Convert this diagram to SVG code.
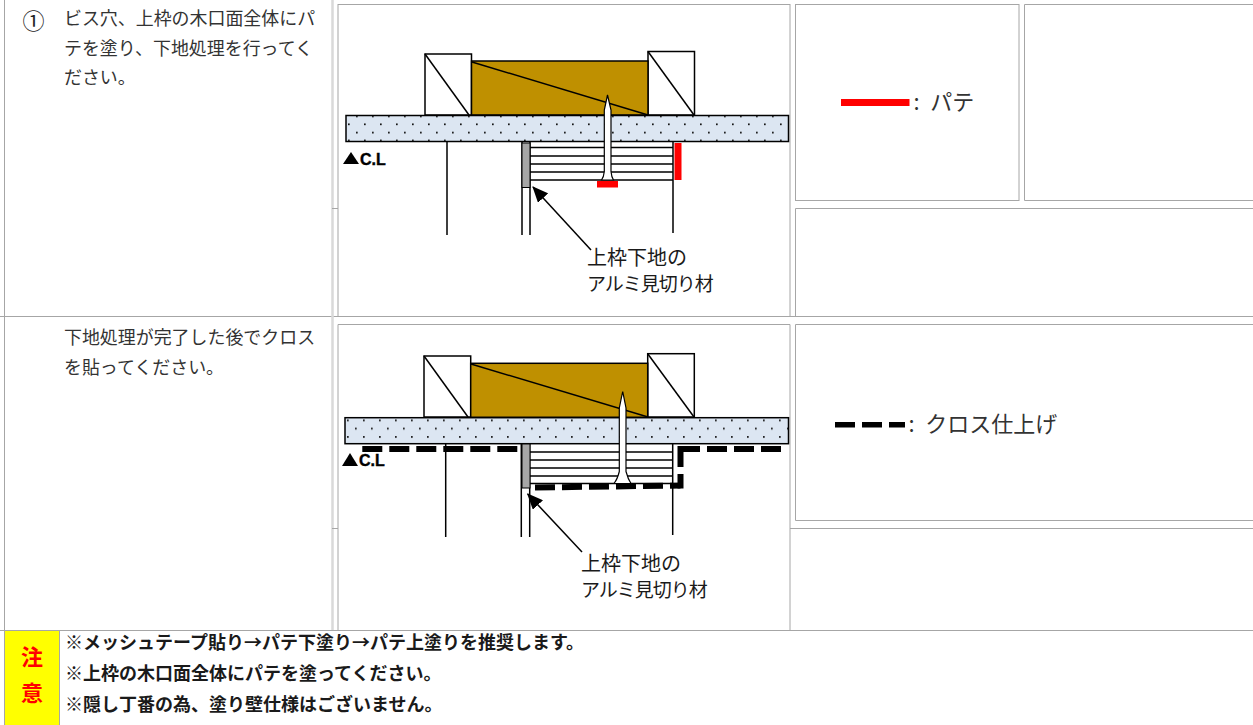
<svg xmlns="http://www.w3.org/2000/svg" width="1253" height="725" viewBox="0 0 1253 725">
<style>
text{font-family:"Noto Sans CJK JP","Liberation Sans",sans-serif}
.g{fill:none;stroke:#a6a6a6;stroke-width:1}
.gl{fill:none;stroke:#d9d9d9;stroke-width:2.5}
.body{font-size:17.95px;fill:#333}
.lab{font-size:20px;fill:#1a1a1a}
.lab2{font-size:19px;letter-spacing:-1px;fill:#1a1a1a}
.leg{font-size:22px;fill:#333}
.note{font-size:18px;font-weight:700;fill:#1a1a1a}
.warn{font-size:22px;font-weight:700;fill:#f00;text-anchor:middle}
.cl{font-family:"Liberation Sans",sans-serif;font-size:16px;font-weight:700;fill:#000;stroke:#000;stroke-width:.4}
.k{fill:none;stroke:#000;stroke-width:1.5}
.w{fill:#fff;stroke:#000;stroke-width:1.5}
.b{fill:#bf9000;stroke:#000;stroke-width:1.5}
.s{fill:#fff;stroke:#000;stroke-width:1.2}
.gy{fill:#a6a6a6;stroke:#000;stroke-width:1}
.board{stroke:#000;stroke-width:1.5}
.bg{fill:#dce6f2}
.dash{fill:none;stroke:#000;stroke-width:6;stroke-dasharray:20 7}
.solid{fill:none;stroke:#000;stroke-width:6}
</style>
<defs>
<pattern id="d1" width="16" height="16.2" patternUnits="userSpaceOnUse" patternTransform="translate(346 115.5)">
<rect x="10" y="0" width="1.7" height="1.7" fill="#111"/><rect x="2" y="8" width="1.7" height="1.7" fill="#111"/>
</pattern>
<pattern id="d2" width="16" height="16.6" patternUnits="userSpaceOnUse" patternTransform="translate(345 419.5)">
<rect x="2" y="0" width="1.7" height="1.7" fill="#111"/><rect x="10" y="8.3" width="1.7" height="1.7" fill="#111"/>
</pattern>
<marker id="ah" markerUnits="userSpaceOnUse" markerWidth="16" markerHeight="14" refX="15" refY="7" orient="auto"><path d="M0 0L16 7L0 14Z" fill="#000"/></marker>
</defs>
<rect width="1253" height="725" fill="#fff"/>

<g id="grid">
<path class="g" d="M4.500 0V725M0 316.500H1253M0 630.500H1253"/>
<path class="gl" d="M332.500 0V630"/>
<path class="g" d="M332 208.500H338M332 528.500H338"/>
<path class="g" d="M1253 4.500H1024.500V200.500H1253"/>
<rect class="g" x="338" y="4.500" width="452" height="312"/>
<rect class="g" x="795.500" y="4.500" width="223.500" height="196"/>
<path class="g" d="M1253 208.500H795.500V316"/>
<path class="g" d="M338 630V324.500H790V630"/>
<path class="g" d="M1253 324.500H795.500V520.500H1253"/>
<path class="g" d="M790 528.500H1253"/>
</g>

<g id="step1-text">
<text class="body" x="22.500" y="29" style="font-size:22px;fill:#222">①</text>
<text class="body" x="64" y="25">ビス穴、上枠の木口面全体にパ</text>
<text class="body" x="64" y="54.500">テを塗り、下地処理を行ってく</text>
<text class="body" x="64" y="84">ださい。</text>
</g>
<g id="step2-text">
<text class="body" x="64" y="344">下地処理が完了した後でクロス</text>
<text class="body" x="64" y="374">を貼ってください。</text>
</g>

<g id="section1">
<rect class="w" x="425" y="54" width="46.500" height="61"/>
<path class="k" d="M425 54L469 115"/>
<rect class="w" x="648" y="51.500" width="46.500" height="63.500"/>
<path class="k" d="M648 51.500L694 115"/>
<rect class="b" x="471.500" y="61" width="176.500" height="54"/>
<path class="k" d="M472 62L648 115"/>
<rect class="bg" x="346" y="115.500" width="442.500" height="26"/>
<rect fill="url(#d1)" x="346" y="115.500" width="442.500" height="26"/>
<rect class="board" fill="none" x="346" y="115.500" width="442.500" height="26"/>
<path class="k" d="M447 141V235M522 141V235M530 141V235M673 141V233"/>
<rect class="gy" x="522" y="143" width="8" height="44.500"/>
<path class="k" d="M530 147.500H673M530 156H673M530 164H673M530 172H673M530 180H673"/>
<rect x="674.500" y="143" width="7" height="37" fill="#f00"/>
<rect x="597" y="181" width="21" height="6.500" fill="#f00"/>
<path class="s" d="M607.500 95L611 110V171.500Q611.500 177 613.500 180H601.500Q603.800 177 604.300 171.500V110Z"/>
<path d="M343 164L351 152L359 164Z" fill="#000"/>
<text class="cl" x="360" y="165">C.L</text>
<path class="k" d="M591 250L533 187" marker-end="url(#ah)"/>
<text class="lab" x="587" y="265">上枠下地の</text>
<text class="lab2" x="587" y="291">アルミ見切り材</text>
</g>

<g id="legend-putty">
<rect x="841" y="99" width="68.500" height="7" fill="#f00"/>
<text class="leg" x="913.500" y="110">:<tspan dx="10.500">パテ</tspan></text>
</g>

<g id="section2">
<rect class="w" x="424" y="356" width="46.700" height="61"/>
<path class="k" d="M424 356L468 417"/>
<rect class="w" x="647.700" y="353.700" width="46.600" height="63.300"/>
<path class="k" d="M647.700 353.700L694 417"/>
<rect class="b" x="470.700" y="363.300" width="177" height="54"/>
<path class="k" d="M471 364L648 417"/>
<rect class="bg" x="345" y="417.700" width="443.500" height="26"/>
<rect fill="url(#d2)" x="345" y="417.700" width="443.500" height="26"/>
<rect class="board" fill="none" x="345" y="417.700" width="443.500" height="26"/>
<path class="k" d="M445.700 443V537M521.300 443V537M529.700 443V537M672.700 443V535"/>
<rect class="gy" x="522" y="444" width="8" height="44"/>
<path class="k" d="M530 452H673M530 460H673M530 468H673M530 476H673M530 483.500H673"/>
<path class="s" d="M622.700 391.500L626 408V471.500Q628 479 631 483.500H614Q617.500 479 619.300 471.500V408Z"/>
<path class="dash" d="M362.300 449H520"/>
<path class="dash" d="M535 487.500L680.500 485.500"/>
<path class="solid" d="M680.500 488.500V474M680.500 467V446"/>
<path class="dash" d="M680 449H788"/>
<path d="M342 466L350 453L358 466Z" fill="#000"/>
<text class="cl" x="359" y="466">C.L</text>
<path class="k" d="M582 552L527.700 494" marker-end="url(#ah)"/>
<text class="lab" x="581" y="571">上枠下地の</text>
<text class="lab2" x="581" y="597">アルミ見切り材</text>
</g>

<g id="legend-cloth">
<path d="M835 424.800H905" fill="none" stroke="#000" stroke-width="5.500" stroke-dasharray="20 7"/>
<text class="leg" x="908.500" y="432">:<tspan dx="10.500">クロス仕上げ</tspan></text>
</g>

<g id="notice">
<rect x="5" y="631" width="54.500" height="94" fill="#ff0"/>
<path d="M59.500 631V725" fill="none" stroke="#a6a6a6"/>
<text class="warn" x="32" y="665">注</text>
<text class="warn" x="32" y="701">意</text>
<text class="note" x="65" y="649">※メッシュテープ貼り→パテ下塗り→パテ上塗りを推奨します。</text>
<text class="note" x="65" y="680">※上枠の木口面全体にパテを塗ってください。</text>
<text class="note" x="65" y="711">※隠し丁番の為、塗り壁仕様はございません。</text>
</g>
</svg>
